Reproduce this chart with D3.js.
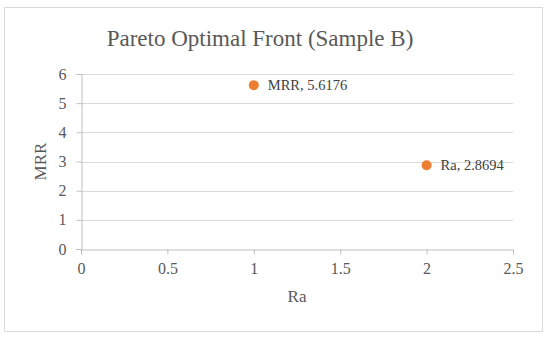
<!DOCTYPE html>
<html><head><meta charset="utf-8">
<script src="https://cdn.jsdelivr.net/npm/d3@7"></script>
<style>body{margin:0;background:#fff}svg{display:block}</style>
</head><body>
<script>
const xValues = [1, 2];
const yValues = [5.6176, 2.8694];
const pointNames = ["MRR", "Ra"];
const xTicks = [0, 0.5, 1, 1.5, 2, 2.5];
const yTicks = [0, 1, 2, 3, 4, 5, 6];
const titleText = "Pareto Optimal Front (Sample B)";
const xTitle = "Ra";
const yTitle = "MRR";

const W = 550, H = 338;
const font = "'Liberation Serif', 'DejaVu Serif', serif";
const svg = d3.select("body").append("svg").attr("width", W).attr("height", H);

svg.append("rect").attr("x", 4.5).attr("y", 7.5).attr("width", 538).attr("height", 324)
  .attr("fill", "#fff").attr("stroke", "#d9d9d9").attr("stroke-width", 1);

const x = d3.scaleLinear().domain([0, 2.5]).range([81, 513]);
const y = d3.scaleLinear().domain([0, 6]).range([249, 74]);

// gridlines
svg.append("g").selectAll("line").data(yTicks.filter(d => d > 0)).join("line")
  .attr("x1", x(0)).attr("x2", x(2.5))
  .attr("y1", d => Math.round(y(d)) + 0.5).attr("y2", d => Math.round(y(d)) + 0.5)
  .attr("stroke", "#d9d9d9").attr("stroke-width", 1);

const xAxis = svg.append("g").attr("transform", `translate(0,${Math.round(y(0)) + 0.5})`)
  .call(d3.axisBottom(x).tickValues(xTicks).tickFormat(d3.format("")).tickSize(5).tickPadding(8));
const yAxis = svg.append("g").attr("transform", `translate(${Math.round(x(0)) + 0.5},0)`)
  .call(d3.axisLeft(y).tickValues(yTicks).tickFormat(d3.format("")).tickSize(5).tickPadding(10));

[xAxis, yAxis].forEach(a => {
  a.select(".domain").attr("stroke", "#bfbfbf");
  a.selectAll(".tick line").attr("stroke", "#bfbfbf");
  a.selectAll(".tick text").attr("fill", "#595959").style("font-family", font).style("font-size", "16px");
});

svg.append("text").attr("x", 260).attr("y", 46).attr("text-anchor", "middle")
  .attr("fill", "#595959").style("font-family", font).style("font-size", "23px").text(titleText);

svg.append("text").attr("x", x(1.25)).attr("y", 302).attr("text-anchor", "middle")
  .attr("fill", "#595959").style("font-family", font).style("font-size", "17px").text(xTitle);

svg.append("text").attr("transform", `translate(46,${y(3)}) rotate(-90)`).attr("text-anchor", "middle")
  .attr("fill", "#595959").style("font-family", font).style("font-size", "17px").text(yTitle);

const pts = xValues.map((v, i) => ({x: v, y: yValues[i], name: pointNames[i]}));
svg.append("g").selectAll("circle").data(pts).join("circle")
  .attr("cx", d => x(d.x)).attr("cy", d => y(d.y)).attr("r", 5)
  .attr("fill", "#ed7d31");
svg.append("g").selectAll("text").data(pts).join("text")
  .attr("x", d => x(d.x) + 14).attr("y", d => y(d.y)).attr("dy", "0.35em")
  .attr("fill", "#404040").style("font-family", font).style("font-size", "14.5px")
  .text(d => `${d.name}, ${d.y}`);
</script>
</body></html>
